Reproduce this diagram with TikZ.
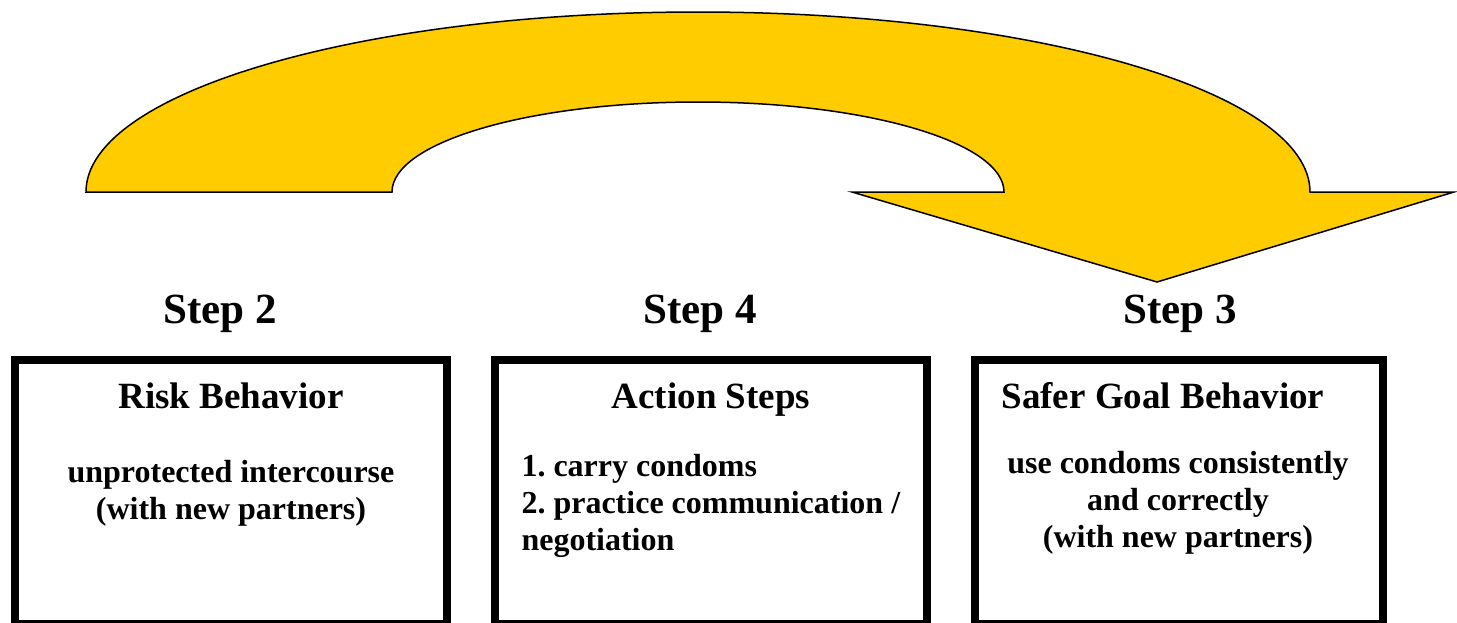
\documentclass[tikz,border=0pt]{standalone}
\usepackage{fontspec}
\setmainfont{Liberation Serif}
\usepackage{tikz}
\usetikzlibrary{positioning}
\definecolor{arrowgold}{HTML}{FFCC00}

\begin{document}
\begin{tikzpicture}[
  x=1pt, y=-1pt,
  stepbox/.style={draw, line width=8pt, minimum width=#1, minimum height=264pt, inner sep=0pt},
  steplabel/.style={font=\fontsize{43}{50}\selectfont\bfseries, anchor=base},
  boxtitle/.style={font=\fontsize{37}{44}\selectfont\bfseries, anchor=base},
  boxtext/.style={font=\fontsize{32}{37}\selectfont\bfseries\frenchspacing, anchor=base, align=center},
]
\useasboundingbox (0,0) rectangle (1457,622);

% big curved arrow from Step 2 over to Step 3
\filldraw[fill=arrowgold, line width=1.5pt] (86,192) -- (392,192)
  arc[start angle=180, end angle=360, x radius=306, y radius=90]
  -- (852,192) -- (1157,282) -- (1454,192) -- (1310,192)
  arc[start angle=0, end angle=-180, x radius=612, y radius=180] -- cycle;

\node[steplabel] (step2) at (220,323) {Step 2};
\node[steplabel] (step4) at (700,323) {Step 4};
\node[steplabel] (step3) at (1180,323) {Step 3};

\node[stepbox=432.5pt] (risk) at (230.75,492) {};
\node[stepbox=432pt] (action) at (711,492) {};
\node[stepbox=408pt] (goal) at (1179,492) {};

% base of a multi-line node is its last line
\node[boxtitle] (risktitle) at (231,408) {Risk Behavior};
\node[boxtext] (risktext) at (231,519) {unprotected intercourse\\(with new partners)};

\node[boxtitle] (actiontitle) at (711,408) {Action Steps};
\node[boxtext, align=left, anchor=base west] (actiontext) at (518,550)
  {1. carry condoms\\2. practice communication /\\negotiation};

\node[boxtitle, anchor=base west] (goaltitle) at (998,408) {Safer Goal Behavior};
\node[boxtext] (goaltext) at (1178,547)
  {use condoms consistently\\and correctly\\(with new partners)};
\end{tikzpicture}
\end{document}
